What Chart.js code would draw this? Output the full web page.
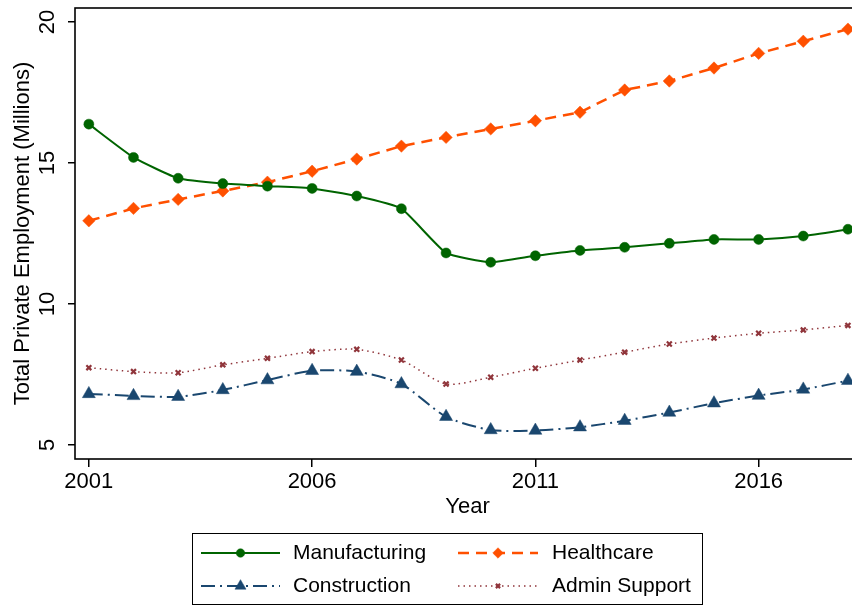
<!DOCTYPE html>
<html>
<head>
<meta charset="utf-8">
<script src="https://cdn.jsdelivr.net/npm/chart.js@4"></script>
<style>
  html, body { margin: 0; padding: 0; background: #fff; overflow: hidden; }
  #wrap { width: 852px; height: 606px; overflow: hidden; }
</style>
</head>
<body>
<div id="wrap"><canvas id="chart" width="870" height="606"></canvas></div>
<script>
// Data (millions of employees)
const years = [2001, 2002, 2003, 2004, 2005, 2006, 2007, 2008, 2009, 2010, 2011, 2012, 2013, 2014, 2015, 2016, 2017, 2018];
const manufacturing = [16.38, 15.20, 14.46, 14.27, 14.18, 14.10, 13.83, 13.38, 11.81, 11.48, 11.71, 11.90, 12.01, 12.15, 12.29, 12.29, 12.41, 12.65];
const healthcare = [12.95, 13.39, 13.71, 14.01, 14.32, 14.71, 15.14, 15.60, 15.91, 16.21, 16.50, 16.80, 17.59, 17.91, 18.37, 18.89, 19.32, 19.75];
const construction = [6.81, 6.74, 6.71, 6.95, 7.30, 7.63, 7.60, 7.16, 6.00, 5.53, 5.51, 5.63, 5.86, 6.15, 6.48, 6.75, 6.97, 7.28];
const adminSupport = [7.74, 7.60, 7.56, 7.84, 8.07, 8.31, 8.39, 8.01, 7.16, 7.40, 7.72, 8.01, 8.29, 8.58, 8.79, 8.96, 9.08, 9.24];

// Axis ticks
const xTicks = [2001, 2006, 2011, 2016];
const yTicks = [5, 10, 15, 20];

const FONT = '"Liberation Sans", Arial, sans-serif';

function pts(values) {
    return years.map((yr, i) => ({ x: yr, y: values[i] }));
}

// Frame around the plot region (Stata style)
const framePlugin = {
    id: 'frame',
    afterDraw(chart) {
        const { ctx, chartArea: a } = chart;
        ctx.save();
        ctx.strokeStyle = '#000';
        ctx.lineWidth = 1.6;
        ctx.strokeRect(a.left, a.top, a.right - a.left, a.bottom - a.top);
        ctx.restore();
    }
};

// Rotated y tick labels
const yLabelPlugin = {
    id: 'yLabels',
    afterDraw(chart) {
        const { ctx } = chart;
        const y = chart.scales.y;
        ctx.save();
        ctx.fillStyle = '#000';
        ctx.font = '22px ' + FONT;
        ctx.textAlign = 'center';
        ctx.textBaseline = 'alphabetic';
        for (const v of yTicks) {
            ctx.save();
            ctx.translate(y.right - 21, y.getPixelForValue(v));
            ctx.rotate(-Math.PI / 2);
            ctx.fillText(String(v), 0, 0);
            ctx.restore();
        }
        ctx.restore();
    }
};

// Two-column legend in a box, line sample + marker
const legendPlugin = {
    id: 'boxLegend',
    afterDraw(chart) {
        const { ctx } = chart;
        const box = { x: 192.5, y: 533.5, w: 510, h: 71 };
        ctx.save();
        ctx.strokeStyle = '#000';
        ctx.lineWidth = 1;
        ctx.strokeRect(box.x, box.y, box.w, box.h);

        const cols = [{ x0: 201, x1: 280, tx: 293 }, { x0: 458, x1: 538, tx: 552 }];
        const rows = [553, 586];
        chart.data.datasets.forEach((ds, i) => {
            const c = cols[i % 2];
            const yy = rows[Math.floor(i / 2)];
            ctx.save();
            ctx.strokeStyle = ds.borderColor;
            ctx.lineWidth = ds.borderWidth;
            ctx.setLineDash(ds.borderDash || []);
            ctx.beginPath();
            ctx.moveTo(c.x0, yy);
            ctx.lineTo(c.x1, yy);
            ctx.stroke();
            ctx.setLineDash([]);
            ctx.fillStyle = ds.pointBackgroundColor;
            ctx.strokeStyle = ds.pointBorderColor;
            ctx.lineWidth = ds.pointBorderWidth;
            Chart.helpers.drawPoint(ctx, {
                pointStyle: ds.pointStyle,
                radius: ds.pointRadius * 0.85,
                borderWidth: ds.pointBorderWidth,
                rotation: 0
            }, (c.x0 + c.x1) / 2, yy);
            ctx.restore();

            ctx.fillStyle = '#000';
            ctx.font = '21px ' + FONT;
            ctx.textAlign = 'left';
            ctx.textBaseline = 'middle';
            ctx.fillText(ds.label, c.tx, yy);
        });
        ctx.restore();
    }
};

const green = '#006400';
const orange = '#ff5000';
const navy = '#1a476f';
const maroon = '#90353b';

new Chart(document.getElementById('chart'), {
    type: 'line',
    data: {
        datasets: [
            {
                label: 'Manufacturing',
                data: pts(manufacturing),
                borderColor: green,
                borderWidth: 2,
                tension: 0.15,
                pointStyle: 'circle',
                pointRadius: 5,
                pointBackgroundColor: green,
                pointBorderColor: green,
                pointBorderWidth: 0.5
            },
            {
                label: 'Healthcare',
                data: pts(healthcare),
                borderColor: orange,
                borderWidth: 2.5,
                borderDash: [11, 7],
                tension: 0,
                pointStyle: 'rectRot',
                pointRadius: 6.2,
                pointBackgroundColor: orange,
                pointBorderColor: orange,
                pointBorderWidth: 0.5
            },
            {
                label: 'Construction',
                data: pts(construction),
                borderColor: navy,
                borderWidth: 2,
                borderDash: [14, 5, 2, 5],
                tension: 0.25,
                pointStyle: 'triangle',
                pointRadius: 7.5,
                pointBackgroundColor: navy,
                pointBorderColor: navy,
                pointBorderWidth: 0.5
            },
            {
                label: 'Admin Support',
                data: pts(adminSupport),
                borderColor: maroon,
                borderWidth: 1.5,
                borderDash: [1.5, 4],
                tension: 0.25,
                pointStyle: 'crossRot',
                pointRadius: 3.5,
                pointBackgroundColor: maroon,
                pointBorderColor: maroon,
                pointBorderWidth: 2.2
            }
        ]
    },
    options: {
        responsive: false,
        animation: false,
        devicePixelRatio: 1,
        layout: { padding: { left: 0, top: 8, right: 10, bottom: 84 } },
        plugins: {
            legend: { display: false },
            tooltip: { enabled: false }
        },
        scales: {
            x: {
                type: 'linear',
                min: 2000.69,
                max: 2018.27,
                afterBuildTicks: (scale) => { scale.ticks = xTicks.map(v => ({ value: v })); },
                afterFit: (scale) => { scale.height = 63; },
                border: { display: false },
                grid: { drawOnChartArea: false, drawTicks: true, tickLength: 8, color: '#000', lineWidth: 1.5 },
                ticks: {
                    color: '#000',
                    font: { family: FONT, size: 22 },
                    padding: 2,
                    maxRotation: 0,
                    callback: (v) => String(v)
                },
                title: {
                    display: true,
                    text: 'Year',
                    color: '#000',
                    font: { family: FONT, size: 22 },
                    padding: { top: 0, bottom: 2 }
                }
            },
            y: {
                min: 4.5,
                max: 20.5,
                afterBuildTicks: (scale) => { scale.ticks = yTicks.map(v => ({ value: v })); },
                afterFit: (scale) => { scale.width = 75; },
                border: { display: false },
                grid: { drawOnChartArea: false, drawTicks: true, tickLength: 7, color: '#000', lineWidth: 1.5 },
                ticks: { display: false },
                title: {
                    display: true,
                    text: 'Total Private Employment (Millions)',
                    color: '#000',
                    font: { family: FONT, size: 22 },
                    padding: { top: 10, bottom: 0 }
                }
            }
        }
    },
    plugins: [framePlugin, yLabelPlugin, legendPlugin]
});
</script>
</body>
</html>
